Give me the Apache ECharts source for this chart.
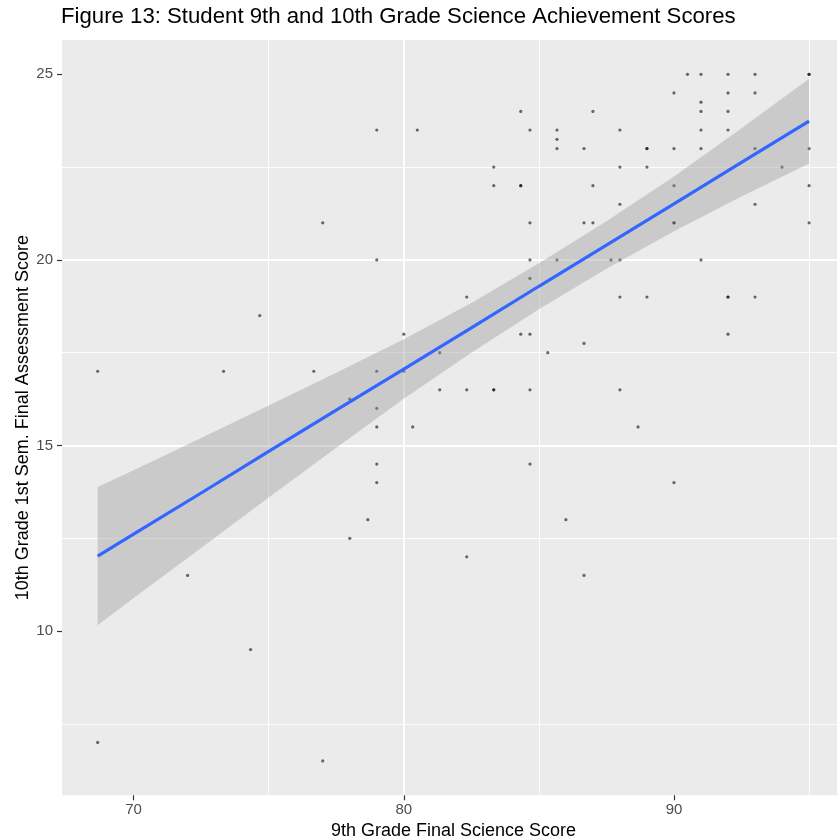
<!DOCTYPE html>
<html>
<head>
<meta charset="utf-8">
<script src="https://cdn.jsdelivr.net/npm/echarts@6/dist/echarts.min.js"></script>
<style>
  html, body { margin: 0; padding: 0; background: #ffffff; }
  #chart { width: 837px; height: 839px; }
</style>
</head>
<body>
<div id="chart"></div>
<script>
// 9th grade final science score (x) and 10th grade 1st semester score (y)
const grade9 = [
  68.67, 68.67, 72, 73.33, 74.33, 74.67, 76.67, 77, 77, 78, 78, 78.67,
  79, 79, 79, 79, 79, 79, 79, 80, 80, 80.33, 80.5, 81.33, 81.33,
  82.33, 82.33, 82.33, 83.33, 83.33, 83.33, 83.33, 84.33, 84.33, 84.33, 84.33,
  84.67, 84.67, 84.67, 84.67, 84.67, 84.67, 84.67, 85.33, 85.67, 85.67, 85.67, 85.67,
  86, 86.67, 86.67, 86.67, 86.67, 87, 87, 87, 87.67,
  88, 88, 88, 88, 88, 88, 88.67, 89, 89, 89, 89,
  90, 90, 90, 90, 90, 90, 90.5, 91, 91, 91, 91, 91, 91,
  92, 92, 92, 92, 92, 92, 92, 93, 93, 93, 93, 93, 94,
  95, 95, 95, 95, 95
];
const grade10 = [
  17, 7, 11.5, 17, 9.5, 18.5, 17, 21, 6.5, 16.25, 12.5, 13,
  23.5, 20, 17, 16, 15.5, 14.5, 14, 18, 17, 15.5, 23.5, 17.5, 16.5,
  19, 16.5, 12, 22.5, 22, 16.5, 16.5, 24, 22, 22, 18,
  23.5, 21, 20, 19.5, 18, 16.5, 14.5, 17.5, 23.5, 23.25, 23, 20,
  13, 23, 21, 17.75, 11.5, 24, 22, 21, 20,
  23.5, 22.5, 21.5, 20, 19, 16.5, 15.5, 23, 23, 22.5, 19,
  24.5, 23, 22, 21, 21, 14, 25, 25, 24.25, 24, 23.5, 23, 20,
  25, 24.5, 24, 23.5, 19, 19, 18, 25, 24.5, 23, 21.5, 19, 22.5,
  25, 25, 23, 22, 21
];

// Fitted line and confidence band
const fitX      = [68.67, 70, 72.5, 75, 77.5, 80, 82.5, 85, 87.5, 90, 92.5, 95];
const fitY      = [12.02, 12.61, 13.72, 14.84, 15.95, 17.06, 18.17, 19.29, 20.40, 21.51, 22.63, 23.74];
const bandUpper = [13.88, 14.33, 15.20, 16.08, 16.96, 17.86, 18.84, 19.91, 21.04, 22.25, 23.55, 24.88];
const bandLower = [10.16, 10.89, 12.24, 13.60, 14.94, 16.26, 17.50, 18.67, 19.76, 20.77, 21.71, 22.60];

const xTicks = [70, 80, 90];
const yTicks = [10, 15, 20, 25];

const titleText = 'Figure 13: Student 9th and 10th Grade Science Achievement Scores';
const xTitle = '9th Grade Final Science Score';
const yTitle = '10th Grade 1st Sem. Final Assessment Score';

const FONT = '"Liberation Sans", Arial, Helvetica, sans-serif';

const chart = echarts.init(document.getElementById('chart'), null, { renderer: 'canvas' });

const points = grade9.map((x, i) => [x, grade10[i]]);
const fitLine = fitX.map((x, i) => [x, fitY[i]]);

const axisCommon = {
  axisLine: { show: false },
  axisTick: { show: true, length: 5, lineStyle: { color: '#333333', width: 1.2 } },
  splitLine: { show: true, showMinLine: false, showMaxLine: false, lineStyle: { color: '#ffffff', width: 1.8 } },
  minorTick: { show: false, splitNumber: 2 },
  minorSplitLine: { show: true, lineStyle: { color: '#ffffff', width: 0.9 } }
};

chart.setOption({
  animation: false,
  backgroundColor: '#ffffff',
  title: {
    text: titleText,
    left: 61,
    top: 6,
    padding: 0,
    textStyle: { fontFamily: FONT, fontSize: 22.2, fontWeight: 'normal', color: '#000000' }
  },
  grid: {
    left: 62, top: 40, right: -8, height: 755.3,
    show: true, backgroundColor: '#EBEBEB', borderWidth: 0,
    containLabel: false,
    outerBoundsMode: 'none'
  },
  xAxis: Object.assign({}, axisCommon, {
    type: 'value',
    min: 67.35, max: 96.33,
    minInterval: 10, maxInterval: 10,
    axisTick: Object.assign({}, axisCommon.axisTick, { customValues: xTicks }),
    axisLabel: { customValues: xTicks, margin: 7, color: '#4D4D4D', fontSize: 15, fontFamily: FONT },
    name: xTitle,
    nameLocation: 'middle',
    nameGap: 24,
    nameTextStyle: { fontFamily: FONT, fontSize: 18, color: '#000000', verticalAlign: 'top' }
  }),
  yAxis: Object.assign({}, axisCommon, {
    type: 'value',
    min: 5.575, max: 25.925,
    minInterval: 5, maxInterval: 5,
    axisTick: Object.assign({}, axisCommon.axisTick, { customValues: yTicks }),
    axisLabel: { customValues: yTicks, margin: 9, color: '#4D4D4D', fontSize: 15, fontFamily: FONT },
    name: yTitle,
    nameLocation: 'middle',
    nameRotate: 90,
    nameGap: 30,
    nameMoveOverlap: false,
    nameTextStyle: { fontFamily: FONT, fontSize: 18, color: '#000000' }
  }),
  series: [
    {
      type: 'scatter',
      data: points,
      symbol: 'circle',
      symbolSize: 3.2,
      itemStyle: { color: 'rgba(0,0,0,0.72)' },
      silent: true,
      z: 2
    },
    {
      type: 'custom',
      data: [[fitX[0], bandUpper[0]]],
      silent: true,
      z: 3,
      renderItem: function (params, api) {
        const pts = [];
        for (let i = 0; i < fitX.length; i++) pts.push(api.coord([fitX[i], bandUpper[i]]));
        for (let i = fitX.length - 1; i >= 0; i--) pts.push(api.coord([fitX[i], bandLower[i]]));
        return {
          type: 'polygon',
          shape: { points: pts },
          style: { fill: 'rgba(153,153,153,0.4)', stroke: null }
        };
      }
    },
    {
      type: 'line',
      data: fitLine,
      symbol: 'none',
      lineStyle: { color: '#3366FF', width: 3.2 },
      silent: true,
      z: 4
    }
  ]
});
</script>
</body>
</html>
